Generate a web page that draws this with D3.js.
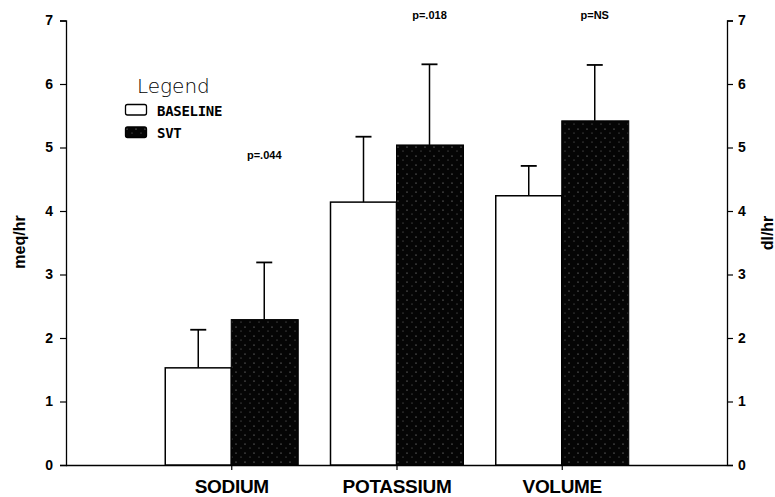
<!DOCTYPE html>
<html>
<head>
<meta charset="utf-8">
<script src="https://cdn.jsdelivr.net/npm/d3@7"></script>
<style>
  body { margin: 0; background: #fff; }
  svg { display: block; }
  text { font-family: "Liberation Sans", Arial, sans-serif; fill: #000; }
</style>
</head>
<body>
<svg id="chart" width="775" height="497"></svg>
<script>
// data
const categories = ["SODIUM", "POTASSIUM", "VOLUME"];
const baselineVals = [1.53, 4.14, 4.24];
const baselineErr = [2.13, 5.17, 4.71];
const svtVals = [2.29, 5.04, 5.42];
const svtErr = [3.19, 6.31, 6.30];
const pLabels = ["p=.044", "p=.018", "p=NS"];
const yTicks = [0, 1, 2, 3, 4, 5, 6, 7];

const svg = d3.select("#chart");
const plotLeft = 66, plotRight = 727, plotTop = 20.5, plotBottom = 465;

const x = d3.scalePoint().domain(categories).range([plotLeft, plotRight]).padding(1);
const y = d3.scaleLinear().domain([0, 7]).range([plotBottom, plotTop]);
const barW = 66;

// dotted dark fill for SVT
const defs = svg.append("defs");
const pat = defs.append("pattern")
  .attr("id", "svtFill")
  .attr("width", 9).attr("height", 9)
  .attr("patternUnits", "userSpaceOnUse");
pat.append("rect").attr("width", 9).attr("height", 9).attr("fill", "#050505");
pat.append("circle").attr("cx", 2).attr("cy", 3).attr("r", 0.6).attr("fill", "#aaa");
pat.append("circle").attr("cx", 7).attr("cy", 7).attr("r", 0.5).attr("fill", "#888");

// axes
const yLeft = svg.append("g")
  .attr("transform", `translate(${plotLeft},0)`)
  .call(d3.axisLeft(y).tickValues(yTicks).tickSize(6).tickPadding(7).tickFormat(d3.format("d")));
const yRight = svg.append("g")
  .attr("transform", `translate(${plotRight},0)`)
  .call(d3.axisRight(y).tickValues(yTicks).tickSize(6).tickPadding(5).tickFormat(d3.format("d")));
[yLeft, yRight].forEach(g => {
  g.select(".domain").attr("stroke", "#000").attr("stroke-width", 1.3);
  g.selectAll(".tick line").attr("stroke", "#000").attr("stroke-width", 1.2);
  g.selectAll(".tick text")
    .style("font-family", "'Liberation Sans', Arial, sans-serif")
    .style("font-size", "14px").style("font-weight", "bold").attr("fill", "#000");
});

const xAxis = svg.append("g")
  .attr("transform", `translate(0,${plotBottom})`)
  .call(d3.axisBottom(x).tickSize(5).tickPadding(10));
xAxis.select(".domain").attr("d", `M${plotLeft},0.5H${plotRight}`).attr("stroke", "#000").attr("stroke-width", 1.5);
xAxis.selectAll(".tick line").attr("stroke", "#000").attr("stroke-width", 1.2);
xAxis.selectAll(".tick text")
  .style("font-family", "'Liberation Sans', Arial, sans-serif")
  .style("font-size", "19px").style("font-weight", "bold")
  .attr("fill", "#000").attr("letter-spacing", "-0.3");

// bars
const groups = svg.append("g").selectAll("g")
  .data(categories)
  .join("g");

groups.append("rect")
  .attr("x", d => x(d) - barW)
  .attr("y", (d, i) => y(baselineVals[i]))
  .attr("width", barW)
  .attr("height", (d, i) => y(0) - y(baselineVals[i]))
  .attr("fill", "#fff").attr("stroke", "#000").attr("stroke-width", 1.5);

groups.append("rect")
  .attr("x", d => x(d))
  .attr("y", (d, i) => y(svtVals[i]))
  .attr("width", barW + 1)
  .attr("height", (d, i) => y(0) - y(svtVals[i]))
  .attr("fill", "url(#svtFill)").attr("stroke", "#000").attr("stroke-width", 1);

// error bars
function errBar(sel, cx, v0, v1) {
  sel.append("line").attr("x1", cx).attr("x2", cx).attr("y1", y(v0)).attr("y2", y(v1))
    .attr("stroke", "#000").attr("stroke-width", 1.5);
  sel.append("line").attr("x1", cx - 8).attr("x2", cx + 8).attr("y1", y(v1)).attr("y2", y(v1))
    .attr("stroke", "#000").attr("stroke-width", 1.8);
}
groups.each(function (d, i) {
  const g = d3.select(this);
  errBar(g, x(d) - barW / 2, baselineVals[i], baselineErr[i]);
  errBar(g, x(d) + barW / 2, svtVals[i], svtErr[i]);
});

// p values above SVT bars
groups.append("text")
  .attr("x", d => x(d) + barW / 2)
  .attr("y", (d, i) => i === 0 ? 159 : 19)
  .attr("text-anchor", "middle")
  .style("font-size", "11px").style("font-weight", "bold")
  .text((d, i) => pLabels[i]);

// axis titles
svg.append("text")
  .attr("transform", "translate(25,242) rotate(-90)")
  .attr("text-anchor", "middle")
  .style("font-size", "16px").style("font-weight", "bold")
  .text("meq/hr");
svg.append("text")
  .attr("transform", "translate(773,233) rotate(-90)")
  .attr("text-anchor", "middle")
  .style("font-size", "16px").style("font-weight", "bold")
  .text("dl/hr");

// legend
const legend = svg.append("g").attr("transform", "translate(125,0)");
legend.append("text").attr("x", 12).attr("y", 93)
  .style("font-family", "'DejaVu Sans', sans-serif")
  .style("font-size", "20px").style("font-weight", "300")
  .text("Legend");
const legendItems = [
  { label: "BASELINE", fill: "#fff", y: 104.5 },
  { label: "SVT", fill: "url(#svtFill)", y: 127 }
];
legendItems.forEach(it => {
  legend.append("rect").attr("x", 0.5).attr("y", it.y).attr("width", 21).attr("height", 10.5)
    .attr("rx", 2).attr("fill", it.fill).attr("stroke", "#000").attr("stroke-width", 1.3);
  legend.append("text").attr("x", 32).attr("y", it.y + 11)
    .style("font-family", "'DejaVu Sans Mono', monospace")
    .style("font-size", "14px").style("font-weight", "bold").attr("letter-spacing", "-0.3")
    .text(it.label);
});
</script>
</body>
</html>
